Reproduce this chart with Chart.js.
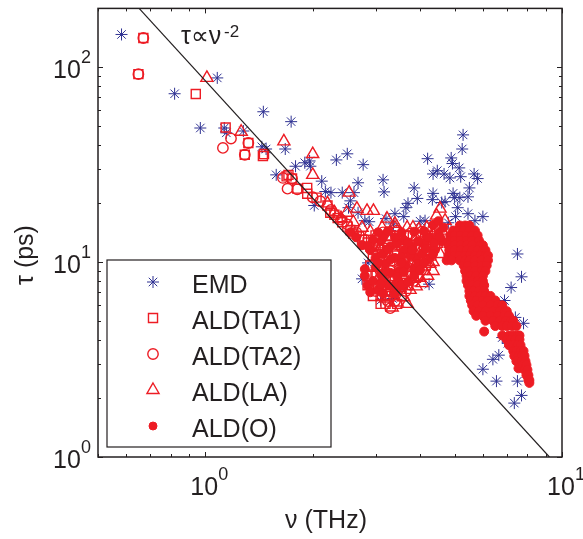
<!DOCTYPE html>
<html>
<head>
<meta charset="utf-8">
<style>
html, body { margin: 0; padding: 0; background: #fff; }
#wrap { width: 583px; height: 539px; }
</style>
<script src="https://cdn.jsdelivr.net/npm/chart.js@4/dist/chart.umd.js"></script>
</head>
<body>
<div id="wrap"><canvas id="chart" width="583" height="539"></canvas></div>
<script>
// values, [nu (THz), tau (ps)]
const emd = [
  [0.582,147],[0.82,73],[1.08,88],[0.968,48.7],[1.13,48.7],[1.145,46],[1.278,47],[1.454,59],[1.74,52.5],
  [1.44,39],[1.48,38],[1.675,38],[1.58,28],[1.79,31],[1.9,32.3],[1.96,33],[1.97,31],[2.12,26],[2.17,23],[2.02,19.5],
  [5.28,44.9],[5.25,38],[4.89,34.2],[4.93,32],[4.2,33.9],[5.15,30.4],[4.47,29.4],[4.35,28.3],[4.67,28.3],[4.85,27],
  [5.2,27.4],[5.67,28.3],[5.8,26.8],[2.5,35.9],[2.33,33.4],[2.77,31.6],[2.68,25.5],[3.15,26.4],[3.17,22.9],[3.85,24],
  [4.35,22.5],[4.33,20.9],[3.93,21.2],[3.7,20],[3.65,19],[4.95,22.5],[5.5,24],[5.45,21.6],[5.17,21.4],[5.0,21.4],
  [4.7,20.4],[4.6,20.2],[5.1,19],[5.45,17.7],[5.03,17.1],[6.0,17.1],[5.7,16.3],[4.8,15.9],[3.4,17.7],[3.6,17.1],
  [4.0,16.2],[4.13,16.3],[2.8,16.3],[2.88,16.1],[3.21,16.7],[2.68,17.9],[2.55,20.6],[2.52,19],[2.61,22.7],[2.42,22.7],
  [2.25,22.7],[7.5,11],[7.7,8.4],[7.2,7.4],[6.9,6.35],[2.75,8.2],[2.86,9.9],[4.24,7.7],[3.1,6.35],[3.35,6.5],
  [3.56,7.4],[3.3,14.5],[3.37,15.7],[7.8,4.85],[6.0,2.82],[6.4,3.17],[6.65,3.33],[6.55,2.45],[7.5,2.45],[7.7,2.07],
  [7.35,1.89],[7.4,5.2],[6.8,4.1],[7.05,3.83]
];
const aldTA1 = [
  [0.67,141],[0.649,92],[0.94,72.8],[1.14,49],[1.32,40.8],[1.29,35.5],[1.46,35.8],[1.45,35],
  [1.71,28],[1.69,27.5],[1.75,26.8],[1.81,23.8],[1.93,24],[1.93,22.4],[2.05,21.4],[2.2,19.5],[2.24,17.9],
  [2.3,17.5],[2.35,16.8],[2.42,16],[2.5,15.2],[2.55,14.6],[2.6,14],[2.7,13.5],[2.75,13],[2.85,12.6],[2.9,12],[3.0,11.6],[3.1,11.2],
  [3.0,13.7],[3.3,13.7],[3.6,13.7],[3.9,13.7],[4.2,13.7],
  [3.05,12.2],[3.25,12.2],[3.5,12.2],[3.8,12.2],[4.1,12.2],[4.4,12.2],
  [2.95,10.8],[3.2,10.8],[3.45,10.8],[3.7,10.8],[3.95,10.8],[4.3,10.8],
  [2.9,9.6],[3.05,9.6],[3.3,9.6],[3.55,9.6],[3.8,9.6],[4.15,9.6],
  [2.85,8.5],[3.0,8.5],[3.2,8.5],[3.4,8.5],[3.65,8.5],[3.95,8.5],
  [2.85,7.6],[3.05,7.6],[3.25,7.6],[3.5,7.6],[3.7,7.6],
  [2.95,6.7],[3.1,6.7],[3.3,6.7],[3.55,6.7],[3.1,6.1],[3.2,6.1],[3.45,6.1]
];
const aldTA2 = [
  [0.67,141],[0.649,92],[1.12,38.5],[1.18,43],[1.32,40.8],[1.29,35.5],[1.65,27],[1.75,26.8],[1.7,23.8],[1.81,23.6],
  [2.0,21.5],[2.1,20.5],[2.25,18.5],[2.4,16.5],[2.5,15.6],[2.65,14.2],[2.8,13],[2.95,12.3],
  [3.15,14.2],[3.45,14.5],[3.75,14],[4.05,14.3],[4.35,14.8],[3.15,11.5],[3.4,11.5],[3.65,11.4],[3.9,11.8],[4.2,11.6],
  [3.1,10],[3.35,10.2],[3.6,10],[3.85,10.3],[4.05,10],[3.1,9],[3.3,9],[3.5,9.1],[3.75,8.9],[3.95,9.2],
  [3.15,8],[3.35,8],[3.6,8],[3.85,8],[3.0,7.1],[3.2,7.1],[3.4,7],[3.65,7.1],[3.25,6.3],[3.4,6.3],[3.3,5.8]
];
const aldLA = [
  [1.01,88],[1.26,46.6],[1.66,41.6],[2.0,35.8],[2.0,28],[2.53,22.7],[2.66,18.8],[2.49,17.9],[2.84,18.3],[2.96,18.3],
  [3.23,16.7],[3.13,15],[3.4,15.7],[3.4,15],[3.68,15],[3.82,15],[3.97,14.7],[4.18,15],[4.55,18.8],[4.45,17.3],
  [4.7,16.3],[4.45,15.4],[4.35,9],[4.26,9.8],[4.05,7.8],[3.75,7.2],[3.68,6.1],[3.34,5.85],[4.55,11],[4.45,12.4],
  [2.2,20],[2.3,18],[2.4,16.8],[2.6,16],[2.75,15],[2.9,14.3],[3.0,13.5],[3.3,13],[3.55,12.8],[3.85,13],[4.15,13.2],[4.35,13.8],[4.6,14.5],
  [3.1,12],[3.4,11.2],[3.7,11.8],[4.0,11.2],[4.3,11.8],[4.15,10.2],[4.35,10],[3.9,9.8],[4.1,9],[3.85,8.2],[4.2,8.5],[4.0,8.3],
  [3.6,8.6],[3.9,7.5],[3.55,7.6],[3.6,6.6],[3.45,6.2],[3.2,6.5],[3.05,8.2],[3.2,9.2]
];
const aldO = [
  [5.17,15.4],[5.35,15.4],[5.5,15.4],
  [4.95,14.5],[5.1,14.5],[5.3,14.5],[5.5,14.5],[5.7,14.5],
  [4.86,13.7],[5.0,13.7],[5.2,13.7],[5.4,13.7],[5.6,13.7],[5.8,13.7],
  [4.83,12.9],[5.0,12.9],[5.2,12.9],[5.4,12.9],[5.6,12.9],[5.85,12.9],
  [4.8,12.2],[5.0,12.2],[5.2,12.2],[5.4,12.2],[5.6,12.2],[5.9,12.2],[6.0,12.2],
  [4.83,11.5],[5.0,11.5],[5.2,11.5],[5.4,11.5],[5.6,11.5],[5.8,11.5],[6.0,11.5],[6.1,11.5],
  [4.8,10.8],[5.0,10.8],[5.17,10.8],[5.35,10.8],[5.5,10.8],[5.7,10.8],[5.9,10.8],[6.1,10.8],[6.2,10.8],
  [4.75,10.2],[4.9,10.2],[5.17,10.2],[5.35,10.2],[5.5,10.2],[5.7,10.2],[5.95,10.2],[6.2,10.2],
  [5.3,9.6],[5.45,9.6],[5.7,9.6],[5.95,9.6],[6.15,9.6],
  [5.35,9],[5.5,9],[5.7,9],[5.95,9],[6.1,9],
  [5.4,8.5],[5.55,8.5],[5.75,8.5],[6.0,8.5],
  [5.4,8],[5.6,8],[5.8,8],[6.0,8],
  [5.45,7.6],[5.6,7.6],[5.8,7.6],[6.05,7.6],
  [5.5,7.1],[5.65,7.1],[5.85,7.1],[6.05,7.1],
  [5.5,6.7],[5.7,6.7],[5.9,6.7],[6.1,6.7],[6.3,6.7],
  [5.55,6.35],[5.75,6.35],[6.0,6.35],[6.2,6.35],[6.5,6.35],
  [5.6,6],[5.8,6],[6.0,6],[6.3,6],[6.6,6],[6.8,6],
  [5.65,5.6],[5.85,5.6],[6.1,5.6],[6.4,5.6],[6.7,5.6],[6.9,5.6],[7.0,5.6],
  [5.75,5.3],[6.0,5.3],[6.3,5.3],[6.6,5.3],[6.9,5.3],[7.1,5.3],
  [6.1,5],[6.4,5],[6.7,5],[6.95,5],[7.2,5],[7.3,5],
  [6.05,4.4],[6.5,4.7],[6.8,4.7],[7.0,4.7],[7.25,4.7],[7.45,4.7],
  [6.8,4.2],[7.1,4.2],[7.3,4.2],[7.5,4.2],[7.6,4.2],
  [7.0,4],[7.2,4],[7.4,4],[7.6,4],
  [7.1,3.75],[7.3,3.75],[7.5,3.75],[7.65,3.75],
  [7.3,3.5],[7.45,3.5],[7.65,3.5],[7.8,3.5],
  [7.35,3.3],[7.55,3.3],[7.7,3.3],[7.85,3.3],
  [7.45,3.1],[7.7,3.1],[7.9,3.1],
  [7.55,2.85],[7.75,2.96],[7.95,2.96],
  [7.85,2.8],[8.0,2.8],[7.95,2.63],[8.05,2.63],[8.05,2.48],[8.1,2.48],[8.1,2.4],
  [2.8,8.5],[2.85,7.6],[2.95,8],[3.05,7.2],[3.1,8.6],[3.25,7.6],[3.3,8.8],[3.0,9.4],[3.2,9.8],[3.4,10.5],
  [3.5,9],[3.6,11.5],[3.8,12],[3.0,10.5],[3.3,12],[3.9,10.5],[4.1,12.5],[4.3,13.2],[4.5,14],[4.6,12.8],
  [4.4,11.5],[3.6,13],[3.1,12.8],[2.9,11.5],[2.75,12.2],
  [2.9,7.0],[3.15,6.9],[3.4,7.6],[2.8,9.2],[3.15,11],[3.45,12.4],[3.75,10.8],[3.65,9.6],[3.85,9.2],[4.05,11],
  [4.25,10.4],[4.4,12.6],[4.2,13.4],[3.95,12.8],[3.7,12.6],[3.4,13.4],[3.15,13.6],[2.95,13],[4.55,13.4],[4.65,15],
  [2.55,14.2],[2.65,13.4],[2.85,12.1],[3.05,14.2],[3.25,14.4],[3.55,14.2],[3.85,14.3],[4.1,14.4],[4.35,15.5],[4.5,16.2],
  [3.25,11.6],[3.55,10.6],[3.8,11.5],[4.15,11.7],[4.35,11],[3.05,9.9],[3.3,10.3],[3.55,9.9],[3.95,9.8],[4.1,9.9],
  [3.15,8.2],[3.45,8.4],[3.6,8.9],[3.85,8.5],[3.4,6.9],[3.55,7.6],[3.7,7.9],[3.1,7.7],[3.2,8.9],[4.0,9.1]
];
const lineFreq = [0.652, 9.22];
const lineTau = [200, 1];

const xMajor = [1, 10];
const xMinor = [0.5, 0.6, 0.7, 0.8, 0.9, 2, 3, 4, 5, 6, 7, 8, 9];
const yMajor = [1, 10, 100];
const yMinor = [2, 3, 4, 5, 6, 7, 8, 9, 20, 30, 40, 50, 60, 70, 80, 90, 200];
const xLabels = ['0', '1'];
const yLabels = ['0', '1', '2'];

const legendNames = ['EMD', 'ALD(TA1)', 'ALD(TA2)', 'ALD(LA)', 'ALD(O)'];

const BLUE = '#2e3192';
const RED = '#ed1c24';
const INK = '#231f20';
const FONT = '"Liberation Sans", "DejaVu Sans", sans-serif';

function toPoints(list) {
  return list.map(p => ({ x: p[0], y: p[1] }));
}

// frame, inward ticks, power-of-ten labels, note and legend
const decorations = {
  id: 'decorations',
  afterDatasetsDraw(chart) {
    const ctx = chart.ctx;
    const a = chart.chartArea;
    const sx = chart.scales.x;
    const sy = chart.scales.y;

    ctx.save();
    ctx.strokeStyle = INK;
    ctx.lineWidth = 1.5;
    ctx.strokeRect(a.left, a.top, a.right - a.left, a.bottom - a.top);

    ctx.lineWidth = 1;
    function xTick(v, len) {
      const px = Math.round(sx.getPixelForValue(v)) + 0.5;
      ctx.beginPath();
      ctx.moveTo(px, a.bottom); ctx.lineTo(px, a.bottom - len);
      ctx.moveTo(px, a.top); ctx.lineTo(px, a.top + len);
      ctx.stroke();
    }
    function yTick(v, len) {
      const py = Math.round(sy.getPixelForValue(v)) + 0.5;
      ctx.beginPath();
      ctx.moveTo(a.left, py); ctx.lineTo(a.left + len, py);
      ctx.moveTo(a.right, py); ctx.lineTo(a.right - len, py);
      ctx.stroke();
    }
    xMajor.forEach(v => xTick(v, 5));
    xMinor.forEach(v => xTick(v, 3));
    yMajor.forEach(v => yTick(v, 5));
    yMinor.forEach(v => yTick(v, 3));

    ctx.fillStyle = INK;
    ctx.textBaseline = 'alphabetic';
    ctx.textAlign = 'left';
    function power(x, y, exp) {
      ctx.font = '25px ' + FONT;
      ctx.fillText('10', x, y);
      ctx.font = '18px ' + FONT;
      ctx.fillText(exp, x + 28, y - 15);
    }
    xMajor.forEach((v, i) => power(sx.getPixelForValue(v) - 15, 495, xLabels[i]));
    yMajor.forEach((v, i) => power(53, sy.getPixelForValue(v) + 11, yLabels[i]));

    // axis titles
    ctx.font = '25px ' + FONT;
    ctx.textAlign = 'center';
    ctx.fillText('ν (THz)', 326, 528);
    ctx.save();
    ctx.translate(33, 255);
    ctx.rotate(-Math.PI / 2);
    ctx.fillText('τ (ps)', 0, 0);
    ctx.restore();

    // slope note
    ctx.textAlign = 'left';
    ctx.font = '25px ' + FONT;
    ctx.fillText('τ∝ν', 181, 44);
    ctx.font = '17px ' + FONT;
    ctx.fillText('-2', 224, 37);

    // legend
    ctx.fillStyle = '#fff';
    ctx.fillRect(107, 260, 224, 187);
    ctx.strokeStyle = INK;
    ctx.lineWidth = 1.2;
    ctx.strokeRect(107, 260, 224, 187);
    chart.data.datasets.slice(0, 5).forEach((ds, i) => {
      const rowY = 282 + i * 36;
      ctx.fillStyle = ds.pointBackgroundColor || 'transparent';
      ctx.strokeStyle = ds.pointBorderColor;
      ctx.lineWidth = ds.pointBorderWidth;
      Chart.helpers.drawPoint(ctx, {
        pointStyle: ds.pointStyle,
        radius: i === 4 ? 4 : ds.pointRadius,
        rotation: 0,
        borderWidth: ds.pointBorderWidth
      }, 153, rowY);
      ctx.fillStyle = INK;
      ctx.font = '25px ' + FONT;
      ctx.fillText(legendNames[i], 192, rowY + 11);
    });
    ctx.restore();
  }
};

new Chart(document.getElementById('chart').getContext('2d'), {
  type: 'scatter',
  data: {
    datasets: [
      { label: 'EMD', data: toPoints(emd), order: 6, pointStyle: 'star', pointRadius: 6,
        pointBorderColor: BLUE, pointBorderWidth: 1, pointBackgroundColor: BLUE },
      { label: 'ALD(TA1)', data: toPoints(aldTA1), order: 5, pointStyle: 'rect', pointRadius: 6.4,
        pointBorderColor: RED, pointBorderWidth: 1.4, pointBackgroundColor: 'transparent' },
      { label: 'ALD(TA2)', data: toPoints(aldTA2), order: 4, pointStyle: 'circle', pointRadius: 5.2,
        pointBorderColor: RED, pointBorderWidth: 1.4, pointBackgroundColor: 'transparent' },
      { label: 'ALD(LA)', data: toPoints(aldLA), order: 3, pointStyle: 'triangle', pointRadius: 7,
        pointBorderColor: RED, pointBorderWidth: 1.4, pointBackgroundColor: 'transparent' },
      { label: 'ALD(O)', data: toPoints(aldO), order: 2, pointStyle: 'circle', pointRadius: 4.5,
        pointBorderColor: RED, pointBorderWidth: 1, pointBackgroundColor: RED },
      { label: 'slope', data: lineFreq.map((f, i) => ({ x: f, y: lineTau[i] })), order: 1, showLine: true,
        pointRadius: 0, borderColor: INK, borderWidth: 1.2 }
    ]
  },
  options: {
    responsive: false,
    animation: false,
    layout: { padding: { left: 98, top: 6, right: 21, bottom: 82 } },
    plugins: { legend: { display: false }, tooltip: { enabled: false } },
    scales: {
      x: { type: 'logarithmic', min: 0.5, max: 10, afterFit(s) { s.height = 0; },
        ticks: { display: false }, grid: { display: false }, border: { display: false } },
      y: { type: 'logarithmic', min: 1, max: 200, afterFit(s) { s.width = 0; },
        ticks: { display: false }, grid: { display: false }, border: { display: false } }
    }
  },
  plugins: [decorations]
});
</script>
</body>
</html>
